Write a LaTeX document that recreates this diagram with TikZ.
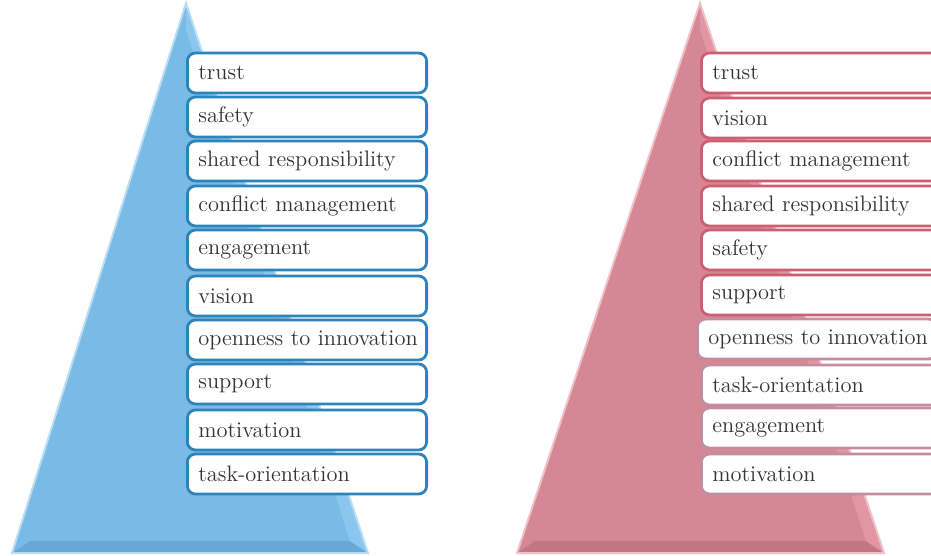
\documentclass[tikz,border=0pt]{standalone}
\usepackage{tikz}
\definecolor{triblue}{RGB}{122,187,230}
\definecolor{triblueD}{RGB}{104,168,214}
\definecolor{triblueL}{RGB}{138,198,237}
\definecolor{boxblue}{RGB}{45,132,186}
\definecolor{trired}{RGB}{213,136,147}
\definecolor{triredD}{RGB}{194,118,131}
\definecolor{triredL}{RGB}{226,150,161}
\definecolor{boxred}{RGB}{204,96,114}
\definecolor{boxredpale}{RGB}{196,140,160}

\begin{document}
\begin{tikzpicture}[x=0.5pt,y=-0.5pt,
  item/.style={draw, rounded corners=4pt, line width=1.4pt, fill=white,
    text width=108.6pt, inner xsep=5.5pt, minimum height=20pt, anchor=west,
    align=left, font=\fontsize{11.2}{13}\selectfont, text=black!80},
  blueitem/.style={item, draw=boxblue},
  reditem/.style={item, draw=boxred},
  paleitem/.style={item, draw=boxredpale}]
\useasboundingbox (0,0) rectangle (931,556);
% left pyramid
\fill[triblue] (186,3) -- (368,553) -- (12,553) -- cycle;
\fill[triblueD] (12,553) -- (368,553) -- (350,541) -- (30,541) -- cycle;
\fill[triblueL] (186,3) -- (368,553) -- (350,541) -- (186,30) -- cycle;
\draw[triblueL!60!white, line width=1pt] (186,3) -- (368,553) -- (12,553) -- cycle;
% right pyramid
\fill[trired] (700,3) -- (884,553) -- (517,553) -- cycle;
\fill[triredD] (517,553) -- (884,553) -- (866,541) -- (535,541) -- cycle;
\fill[triredL] (700,3) -- (884,553) -- (866,541) -- (700,30) -- cycle;
\draw[triredL!60!white, line width=1pt] (700,3) -- (884,553) -- (517,553) -- cycle;
% left list
\node[blueitem] (trustL) at (186,73) {trust};
\node[blueitem] (safetyL) at (186,117) {safety};
\node[blueitem] (sharedL) at (186,161) {shared responsibility};
\node[blueitem] (conflictL) at (186,206) {conflict management};
\node[blueitem] (engageL) at (186,250) {engagement};
\node[blueitem] (visionL) at (186,296) {vision};
\node[blueitem] (openL) at (186,340) {\mbox{openness to innovation}};
\node[blueitem] (supportL) at (186,384) {support};
\node[blueitem] (motivL) at (186,430) {motivation};
\node[blueitem] (taskL) at (186,474) {task-orientation};
% right list
\node[reditem] (trustR) at (700,73) {trust};
\node[reditem] (visionR) at (700,118) {vision};
\node[reditem] (conflictR) at (700,161) {conflict management};
\node[reditem] (sharedR) at (700,206) {shared responsibility};
\node[reditem] (safetyR) at (700,250) {safety};
\node[reditem] (supportR) at (700,295) {support};
\node[paleitem] (openR) at (696,339) {\mbox{openness to innovation}};
\node[paleitem] (taskR) at (700,385) {task-orientation};
\node[paleitem] (engageR) at (700,428) {engagement};
\node[paleitem] (motivR) at (700,474) {motivation};
\end{tikzpicture}
\end{document}
